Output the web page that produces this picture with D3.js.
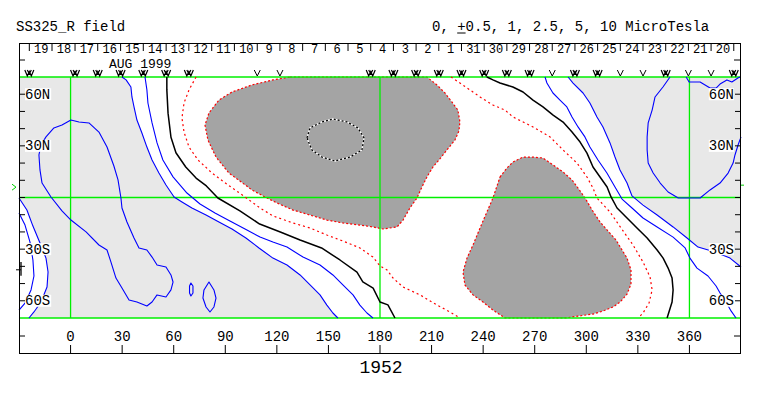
<!DOCTYPE html>
<html><head><meta charset="utf-8">
<script src="https://cdn.jsdelivr.net/npm/d3@7"></script>
<style>body{margin:0;background:#fff}svg{display:block}</style>
</head><body>
<svg id="c" width="763" height="396"></svg>
<script>
// ---------- text ----------
const titleText = "SS325_R field";
const levelsPre = "0, ", levelsPm = "+", levelsPost = "0.5, 1, 2.5, 5, 10 MicroTesla";
const yearText = "1952";
const monthText = "AUG 1999";

// ---------- axes ----------
const lonTicks = [0,30,60,90,120,150,180,210,240,270,300,330,360];
const latTicks = [-60,-50,-40,-30,-20,-10,0,10,20,30,40,50,60];
const latLabelValues = [60,30,-30,-60];
const latLabelText = ["60N","30N","30S","60S"];
const gridLon = [0,180,360];
const gridLat = [70,0,-70];
const b0Lat = 6;

// ---------- day strip ----------
const dayTickLon = [-24,-10.8,2.6,15.8,29.1,42.3,55.6,68.8,82.1,95.3,108.6,121.8,135.0,148.2,161.4,174.6,187.8,201.0,214.2,227.4,240.6,253.8,267.0,280.2,293.4,306.6,319.8,333.0,346.2,359.4,372.6,385.8];
const dayLabels = ["19","18","17","16","15","14","13","12","11","10","9","8","7","6","5","4","3","2","1","31","30","29","28","27","26","25","24","23","22","21","20"];
const markerLon = [-24,2.6,15.8,29.1,42.3,55.6,68.8,108.6,121.8,174.6,187.8,201.0,214.2,227.4,240.6,253.8,267.0,280.2,293.4,306.6,319.8,333.0,346.2,359.4,372.6,385.8];
const markerType = ["W","W","W","W","W","W","W","V","V","W","W","W","W","W","W","W","W","V","W","W","V","V","W","V","V","W"];

// ---------- contours [lon, lat] ----------
const zeroWest = [[56,70],[56,62.5],[56.7,49],[58.4,35],[61.3,26],[67,17.7],[73,11.3],[79,6.7],[85.7,-0.3],[98.5,-7.8],[110,-15.4],[122,-20],[133.5,-24.7],[146,-29.3],[156.7,-36.3],[166.6,-43.3],[170,-49],[176,-52.6],[180,-60.7],[184.6,-62.4],[188.7,-70]];
const zeroEast = [[242.2,70],[245.7,68.3],[249.8,66.5],[257.3,64.2],[263.2,61.3],[269,56.6],[274.8,52.6],[280.7,47.9],[286.5,43.8],[291.7,38],[296.4,32.2],[300.4,25.8],[303.9,17.7],[308,11.9],[312.1,6.1],[314.4,0.3],[317.9,-6.1],[323.7,-11.9],[329.5,-17.7],[335.4,-23.5],[341.2,-30.5],[344.7,-35.2],[347.6,-41],[349.9,-46.8],[350.5,-53.7],[349.9,-60.7],[347,-70]];
const p05West = [[73,70],[68.9,62.5],[66,54.9],[64.8,46.2],[66,38],[68.9,29.3],[74.1,21.8],[82.3,14.2],[91.6,7.3],[101.5,0.3],[110.2,-6.1],[117.7,-10.7],[129.4,-14.8],[139.3,-17.7],[149.1,-21.8],[158.4,-25.3],[168.3,-29.3],[175.9,-34.6],[180,-39.8],[184.1,-42.1],[187.6,-46.8],[193.4,-52],[203.3,-56.6],[213.2,-62.5],[220.7,-66.5],[226.5,-70]];
const p05East = [[221.3,70],[226.5,66.5],[232.3,62.5],[238.2,58.4],[245.7,53.7],[252.7,50.8],[257.3,46.8],[269,41],[278.9,35.2],[286.5,27.6],[294.6,20],[300.4,11.9],[303.9,5.5],[306.2,-0.3],[313.8,-8.4],[320.2,-17.7],[327.2,-27.6],[333,-37.5],[337.1,-46.2],[338.3,-53.7],[336.5,-61.3],[333,-67.1],[330.2,-70]];
const p25North = [[127.6,70],[207.3,70],[213.1,65.4],[217.8,60.7],[221.8,55.5],[225.3,50.8],[226.5,43.9],[225.9,38.6],[223.6,33.4],[218.9,27.6],[214.8,22.4],[210.8,17.7],[207.3,11.9],[204.4,6.1],[201.5,-0.3],[197.4,-6.1],[193.4,-13.1],[189.9,-17.1],[181.7,-18.3],[175.9,-17.1],[168.3,-16],[158.4,-14.8],[149.1,-13.1],[139.3,-10.2],[129.4,-7.3],[120.1,-3.2],[113.1,0.3],[105.5,4.4],[98.5,9.6],[92.1,14.2],[84.6,23.5],[79.9,33.4],[78.2,42.1],[80.5,49.1],[86.3,56.6],[93.9,61.3],[105.5,65.4],[110.2,66.5],[117.7,68.3]];
const p25South = [[249.8,11.9],[253.8,17.1],[257.3,20.6],[263.2,23.5],[269,23.5],[274.8,22.9],[280.7,18.9],[286.5,14.8],[291.7,10.2],[295.2,5.5],[299.3,-0.3],[303.4,-7.3],[308,-14.2],[312.6,-19.5],[317.3,-24.7],[320.8,-30.5],[323.7,-35.2],[326,-42.1],[326,-50.3],[323.7,-56.1],[319.7,-60.7],[315.6,-63.6],[309.8,-65.9],[304,-67.7],[295.2,-68.9],[287.7,-70],[252.7,-70],[245.7,-65.4],[239.9,-60.7],[234.1,-56.6],[229.4,-50.8],[228.3,-43.3],[230.6,-35.2],[234.1,-27.6],[238.2,-17.7],[242.2,-8.4],[245.7,-0.3]];
const p5Loop = [[137.5,34.6],[139.3,40.4],[146.2,43.9],[152.6,45.6],[160.8,43.9],[167.2,40.4],[170.7,34.6],[169.5,27.6],[162.5,23.5],[153.8,21.2],[146.2,23.5],[140.4,27.6]];
const m05West = [[43.3,70],[44.4,62.5],[45,54.9],[47.4,43.3],[50.3,31.7],[53.7,21.8],[59.6,12],[67.7,2.6],[75.3,-3.8],[84,-9],[92.7,-13.7],[101.5,-18.3],[110.2,-23],[117.7,-25.9],[125.9,-28.8],[135.2,-34.6],[145.1,-39.2],[152.6,-45],[158.4,-50.8],[164.3,-56.6],[168.3,-62.5],[172.4,-67.1],[175.9,-70]];
const m1West = [[29.9,70],[32.3,68.3],[35.1,64.2],[35.7,58.4],[36.9,52.6],[38.6,45],[41.5,37.5],[44.4,29.3],[47.4,21.8],[51.4,14.2],[55.5,7.3],[60.2,0.3],[64.8,-2.6],[70.6,-6.1],[78.8,-10.2],[86.3,-14.2],[93.9,-18.3],[102,-23.5],[109.6,-29.3],[117.7,-35.2],[125.9,-39.2],[133.5,-45],[139.3,-50.8],[145.1,-56.6],[149.1,-62.5],[152.6,-67.1],[155.5,-70]];
const m1SW = [[-30,-0.3],[-25.4,-7.3],[-21.9,-16.6],[-17.8,-26.4],[-14.3,-35.2],[-13.1,-43.3],[-13.7,-52],[-17.2,-60.7],[-21.3,-66.5],[-24.2,-70]];
const m05SW = [[-30,-9],[-26.5,-16],[-23.6,-25.9],[-21.9,-36.3],[-21.3,-45.6],[-23,-53.7],[-26.5,-61.3],[-30,-65.4]];
const m25West = [[-18.4,24.7],[-17.8,16],[-16.6,8.4],[-11.4,0.3],[-5,-7.8],[0.2,-13.1],[9,-20],[16.5,-27.6],[21.2,-30.5],[23.5,-37.5],[26.4,-46.8],[29.9,-52.6],[34,-59.5],[38.6,-60.7],[44.4,-63],[47.4,-60.7],[50.3,-56.6],[55.5,-57.8],[58.4,-53.7],[59.6,-49.1],[58.4,-45],[55.5,-40.4],[50.3,-39.2],[47.4,-34.6],[44.4,-30.5],[39.8,-29.3],[36.9,-23.5],[32.8,-14.2],[29.9,-6.1],[29.3,-0.3],[27.6,10.2],[25.2,18.3],[21.2,29.3],[16.5,38],[10.7,43.3],[4.9,43.9],[0.2,45],[-5,42.1],[-9.7,40.4],[-14.3,35.2],[-17.2,30.5]];
const m25SmallA = [[70,-49.7],[71.2,-51.4],[71.2,-55.5],[70,-57.2],[69.2,-55.5],[69.2,-51.4]];
const m25SmallB = [[80.5,-49.1],[83.4,-53.7],[84.6,-58.4],[83.4,-63.6],[81.1,-66.5],[78.8,-63.6],[77,-58.4],[77.6,-53.7]];
const m05East = [[276,70],[277.1,66.5],[280.6,60.7],[284.7,56.6],[288.7,52.6],[291.7,46.8],[295.2,41],[299.2,35.2],[302.1,29.3],[306.8,21.8],[312,14.2],[316.7,6.1],[320.8,-0.9],[326.6,-6.1],[333,-11.9],[341.2,-17.1],[350.5,-23],[357.5,-29.3],[360.3,-35.2],[364.4,-41],[370.8,-45.6],[375.5,-51.4],[377.8,-55.5],[381.3,-60.7],[384.2,-65.9],[387.1,-70]];
const m1East = [[289.4,70],[292.3,66.5],[298.1,60.7],[302.1,54.9],[306.2,46.8],[309.7,41],[313.8,31.7],[316.7,23.5],[319.6,16],[323.7,8.4],[326.6,0.9],[333,-4.4],[341.2,-10.2],[350.5,-17.1],[358.6,-23.5],[365,-28.8],[374.9,-31.7],[383.6,-35.2],[390,-40.4]];
const m25East = [[348.7,70],[344.6,64.2],[340,58.4],[338.3,50.8],[336,43.3],[335.4,35.2],[335.4,27.6],[336,20],[338.9,14.2],[343,8.4],[347.6,3.2],[353.5,-0.3],[360.4,-0.3],[366.2,-0.3],[372,4.4],[377.8,8.4],[382.5,14.2],[385.4,20],[386.5,24.7],[388.3,30.5],[390,35.2]];
const m25NorthEast = [[358.1,70],[359.8,67.1],[366.2,67.1],[372,63.6],[375.5,63.6],[377.8,65.9],[381.8,68.3],[384.7,67.1],[388.2,69.4],[389.4,70]];

// ---------- drawing ----------
const svg = d3.select("#c");
const x = d3.scaleLinear().domain([-30,390]).range([19,741]);
const y = d3.scaleLinear().domain([-70,70]).range([318,77]);
const boxTop = 43, boxBottom = 353;
const FONT = "'Liberation Mono', 'DejaVu Sans Mono', monospace";
const line = d3.line().x(d=>x(d[0])).y(d=>y(d[1]));
const closed = d3.line().x(d=>x(d[0])).y(d=>y(d[1])).curve(d3.curveLinearClosed);

svg.append("rect").attr("width",763).attr("height",396).attr("fill","#fff");

// light gray (strong negative) regions
const grayWest = [[-30,70], ...m1West, ...m1SW.slice().reverse()];
const grayEast = [...m1East, [390,70]];
[grayWest, grayEast].forEach(p => svg.append("path").attr("d", closed(p)).attr("fill","#e8e8e8"));

// dark gray (strong positive) regions
[p25North, p25South].forEach(p => {
  svg.append("path").attr("d", closed(p)).attr("fill","#a4a4a4");
  svg.append("path").attr("d", closed(p)).attr("fill","none")
     .attr("stroke","#ff0000").attr("stroke-width",1.2).attr("stroke-dasharray","2,2");
});

// green grid
const g = svg.append("g").attr("stroke","#00f000").attr("stroke-width",1.3);
gridLat.forEach(v => g.append("line").attr("x1",x(-30)).attr("x2",x(390)).attr("y1",y(v)).attr("y2",y(v)));
gridLon.forEach(v => g.append("line").attr("x1",x(v)).attr("x2",x(v)).attr("y1",y(70)).attr("y2",y(-70)));

// contour lines
const draw = (pts, stroke, w, dash, isClosed) => svg.append("path")
  .attr("d", isClosed ? closed(pts) : line(pts)).attr("fill","none")
  .attr("stroke",stroke).attr("stroke-width",w).attr("stroke-dasharray",dash||null)
  .attr("stroke-linejoin","round");
[m05West, m1West, m1SW, m05SW, m05East, m1East, m25East, m25NorthEast].forEach(p => draw(p,"#0000ff",1.1));
[m25West, m25SmallA, m25SmallB].forEach(p => draw(p,"#0000ff",1.1,null,true));
[p05West, p05East].forEach(p => draw(p,"#ff0000",1.2,"2,3"));
[zeroWest, zeroEast].forEach(p => draw(p,"#000",1.5));
draw(p5Loop,"#fff",1.3,null,true);
draw(p5Loop,"#000",1.3,"2,2",true);

// frame
svg.append("rect").attr("x",19.5).attr("y",boxTop+0.5).attr("width",721).attr("height",boxBottom-boxTop)
   .attr("fill","none").attr("stroke","#000").attr("stroke-width",1);
const k = svg.append("g").attr("stroke","#000").attr("stroke-width",1);
latTicks.forEach(v => {
  k.append("line").attr("x1",19).attr("x2",25).attr("y1",y(v)).attr("y2",y(v));
  k.append("line").attr("x1",735).attr("x2",741).attr("y1",y(v)).attr("y2",y(v));
});
lonTicks.forEach(v => k.append("line").attr("x1",x(v)).attr("x2",x(v)).attr("y1",boxBottom).attr("y2",boxBottom-8));
[60, 336].forEach(v => {
  k.append("line").attr("x1",19).attr("x2",25).attr("y1",v).attr("y2",v);
  k.append("line").attr("x1",734).attr("x2",741).attr("y1",v).attr("y2",v);
});
dayTickLon.forEach(v => k.append("line").attr("x1",x(v)).attr("x2",x(v)).attr("y1",boxTop).attr("y2",boxTop+8));
k.append("line").attr("x1",21).attr("x2",21).attr("y1",y(-37.5)).attr("y2",y(-45.5)).attr("stroke-width",1.3);
k.append("line").attr("x1",16).attr("x2",21).attr("y1",y(-42)).attr("y2",y(-42));

// observation markers (symbols drawn as paths)
const symV = "M-3,-6L0,0L3,-6";
const symW = "M-4.5,-6L-2,0L0,-4.5L2,0L4.5,-6M-2,-6L0,-2L2,-6";
markerLon.forEach((v,i) => svg.append("path")
  .attr("transform",`translate(${x(v)},76)`)
  .attr("d", markerType[i]==="W" ? symW : symV)
  .attr("fill","none").attr("stroke","#000").attr("stroke-width",markerType[i]==="W"?1.2:1));

// B0 markers
svg.append("path").attr("d",`M12,${y(b0Lat)-3}L16,${y(b0Lat)}L12,${y(b0Lat)+3}`).attr("fill","none").attr("stroke","#00d000");
svg.append("line").attr("x1",741).attr("x2",744).attr("y1",y(b0Lat)-2).attr("y2",y(b0Lat)-2).attr("stroke","#00d000");

// texts
const T = (tx,ty,s,size,anchor) => svg.append("text").attr("x",tx).attr("y",ty).text(s)
  .attr("font-family",FONT).attr("font-size",size).attr("text-anchor",anchor||"start").attr("fill","#000");
T(16,31,titleText,14);
T(432,31,levelsPre+levelsPm+levelsPost,14);
svg.append("line").attr("x1",432+levelsPre.length*8.4).attr("x2",432+(levelsPre.length+1)*8.4)
   .attr("y1",33).attr("y2",33).attr("stroke","#000");
dayLabels.forEach((d,i) => T((x(dayTickLon[i])+x(dayTickLon[i+1]))/2+0.5, 53, d, 12, "middle"));
T(109,67.5,monthText,13);
latLabelValues.forEach((v,i) => {
  const w = latLabelText[i].length*8.4;
  svg.append("rect").attr("x",25).attr("y",y(v)-6).attr("width",w+1).attr("height",12).attr("fill","#fff");
  T(25,y(v)+4.5,latLabelText[i],14);
  svg.append("rect").attr("x",734-w).attr("y",y(v)-6).attr("width",w).attr("height",12).attr("fill","#fff");
  T(734,y(v)+4.5,latLabelText[i],14,"end");
});
lonTicks.forEach(v => T(x(v),341,String(v),14,"middle"));
T(381,373,yearText,18,"middle");
</script>
</body></html>
